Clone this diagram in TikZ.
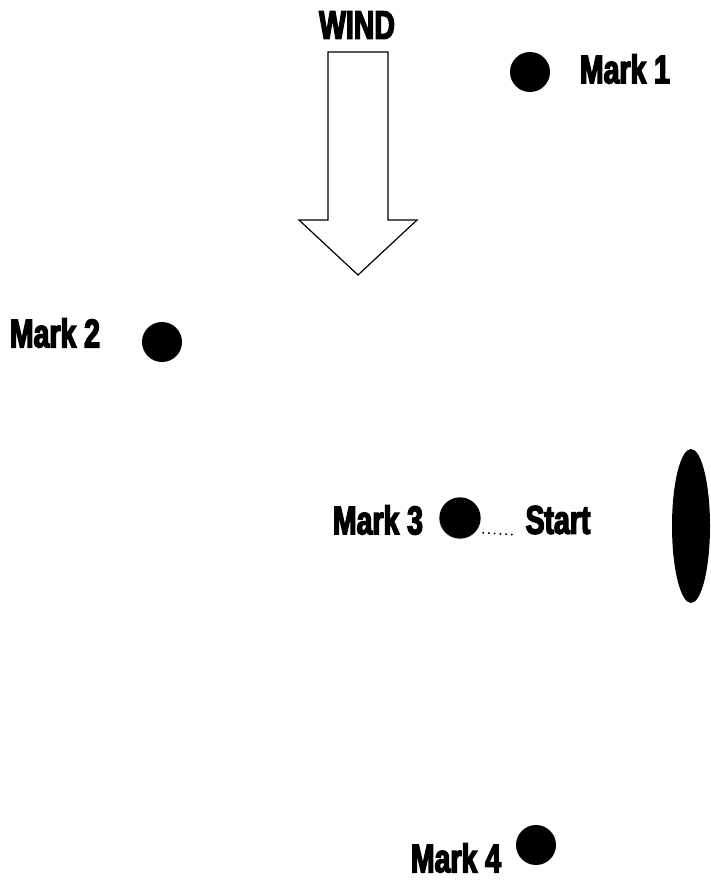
\documentclass[tikz,border=0pt]{standalone}
\usepackage{fontspec}
\usetikzlibrary{shapes.geometric}
\newfontfamily\markfont[FakeStretch=0.71,FakeBold=3.5,BoldFont={Liberation Sans Bold}]{Liberation Sans}
\tikzset{every picture/.style={line width=0.75pt}}
\tikzset{
  marklabel/.style={inner sep=0pt, font=\markfont\bfseries\fontsize{30}{30}\selectfont},
  buoy/.style={circle, fill=black, minimum size=30pt, inner sep=0pt}
}

\begin{document}
\begin{tikzpicture}[x=0.75pt,y=0.75pt,yscale=-1,xscale=1]
	\useasboundingbox (0,0) rectangle (710,888);

	%Wind label and arrow
	\node[marklabel] (wind) at (357,25) {WIND};
	\draw [line width=0.9pt]  (328,52) -- (388,52) -- (388,220) -- (417,220) -- (358,275) -- (299,220) -- (328,220) -- cycle ;

	%Mark 1
	\node[buoy] (m1dot) at (530,72) {};
	\node[marklabel] (m1) at (625,69) {Mark 1};
	%Mark 2
	\node[buoy] (m2dot) at (162,342) {};
	\node[marklabel] (m2) at (55,333) {Mark 2};
	%Mark 3 and start
	\node[buoy, minimum size=31pt] (m3dot) at (460,518) {};
	\node[marklabel] (m3) at (378,520) {Mark 3};
	\node[marklabel] (start) at (558,520) {Start};
	\draw [line width=1.6pt, line cap=round, dash pattern=on 0pt off 4.3pt] (m3dot.east |- start.base) ++(2,-1) -- ([xshift=-7.5pt,yshift=0.75pt]start.base west) ;
	%Start boat
	\node[ellipse, fill=black, minimum width=28.5pt, minimum height=115.5pt, inner sep=0pt] (boat) at (691,526) {};
	%Mark 4
	\node[buoy] (m4dot) at (536,845) {};
	\node[marklabel] (m4) at (456,858) {Mark 4};

\end{tikzpicture}
\end{document}
